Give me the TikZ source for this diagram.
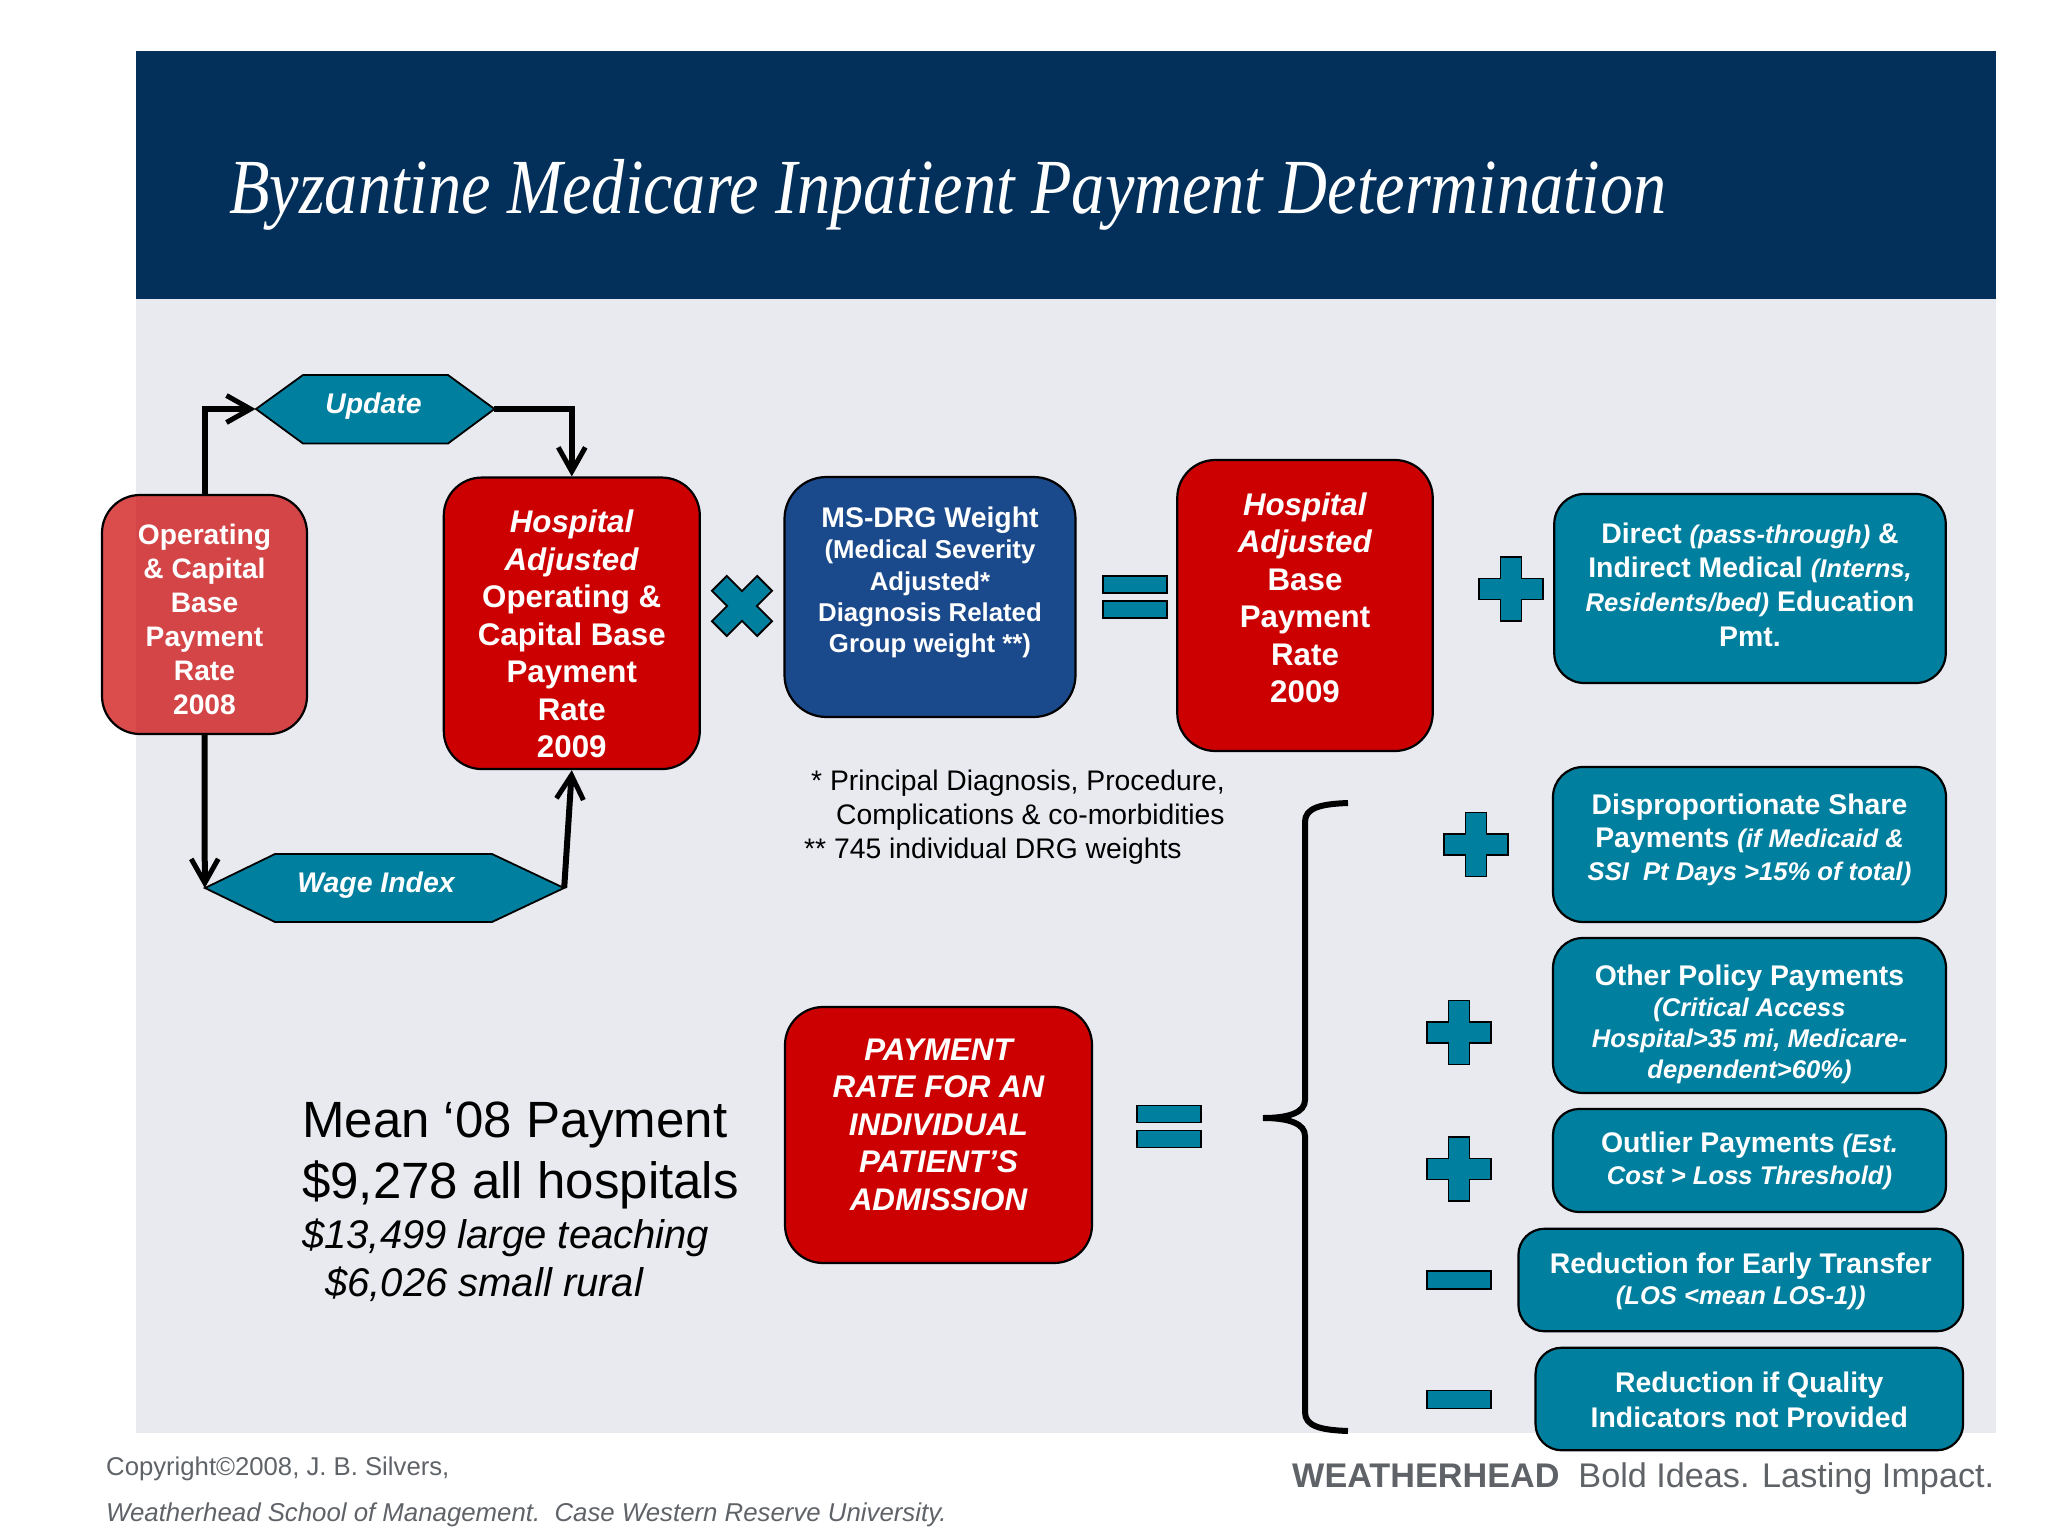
\documentclass[tikz,border=0pt]{standalone}
\usepackage{fontspec}
\setmainfont{Liberation Sans}
\newfontfamily\titlefont[FakeStretch=0.85]{Liberation Serif}
\usetikzlibrary{arrows.meta}

\definecolor{navy}{HTML}{03305A}
\definecolor{panel}{HTML}{E9EAF0}
\definecolor{medred}{HTML}{CC0000}
\definecolor{teal}{HTML}{007F9E}
\definecolor{drgblue}{HTML}{1A4A8C}
\definecolor{footgray}{HTML}{5F6368}

% smaller italic runs inside the boxes
\newcommand{\sm}[1]{{\fontsize{25.6}{30}\selectfont\itshape #1}}
% text sits off the middle of its box
\newcommand{\pad}[1]{\rule[-#1pt]{0pt}{0pt}}
\newcommand{\drop}[1]{\rule{0pt}{#1pt}}

\begin{document}
\begin{tikzpicture}[x=1pt,y=-1pt,line join=miter,
  box node/.style={draw=black,line width=2.2pt,text=white,align=center,inner sep=0pt,
    font=\fontsize{28.4}{34.4}\selectfont\bfseries},
  red node/.style={box node,fill=medred,rounded corners=38pt,
    font=\fontsize{31.3}{37.5}\selectfont\bfseries},
  teal node/.style={box node,fill=teal,rounded corners=30pt},
  hex mark/.style={draw=black,line width=1.8pt,fill=teal},
  hex node/.style={inner sep=0pt,text=white,font=\fontsize{28.4}{34}\selectfont\bfseries\itshape},
  flow/.style={draw=black,line width=6pt,-{Straight Barb[length=24pt,width=27pt,line width=5pt]}},
  op mark/.style={draw=black,line width=1.8pt,fill=teal},
  plain text/.style={inner sep=0pt,align=left,text=black},
  foot text/.style={inner sep=0pt,anchor=base west,text=footgray},
  plusop/.pic={\path[op mark] (-10.5,-32) -- (10.5,-32) -- (10.5,-10.5) -- (32,-10.5)
    -- (32,10.5) -- (10.5,10.5) -- (10.5,32) -- (-10.5,32) -- (-10.5,10.5) -- (-32,10.5)
    -- (-32,-10.5) -- (-10.5,-10.5) -- cycle;},
  minusop/.pic={\path[op mark] (-32,-9) rectangle (32,9);},
  equalop/.pic={\path[op mark] (-32,-21) rectangle (32,-4) (-32,4) rectangle (32,21);}]

  \useasboundingbox (0,0) rectangle (2048,1536);
  \fill[panel] (136,299) rectangle (1996,1433);
  \fill[navy] (136,51) rectangle (1996,299);
  \node[anchor=base west,inner sep=0pt,text=white,font=\fontsize{78}{90}\selectfont\titlefont\itshape]
    (title) at (229,213) {Byzantine Medicare Inpatient Payment Determination};

  \node[red node,fill opacity=.7,text opacity=1,draw opacity=1,
    font=\fontsize{28.2}{34}\selectfont\bfseries,minimum width=205pt,minimum height=239pt]
    (oprate) at (204.5,614.5) {\drop{30}Operating\\\&~Capital\\Base\\Payment\\Rate\\2008};
  \node[red node,minimum width=256pt,minimum height=291.5pt] (hospadj) at (571.8,623.3)
    {\drop{44}\textit{Hospital}\\\textit{Adjusted}\\Operating \&\\Capital Base\\Payment\\Rate\\2009};
  \node[box node,fill=drgblue,rounded corners=42pt,minimum width=291pt,minimum height=240pt,
    font=\fontsize{25.8}{31.3}\selectfont\bfseries] (drg) at (930,597)
    {{\fontsize{28.4}{31.3}\selectfont MS-DRG Weight}\\(Medical Severity\\Adjusted*\\Diagnosis Related\\Group weight **)\pad{34}};
  \node[red node,minimum width=255.5pt,minimum height=291pt] (hosprate) at (1305,605.5)
    {\textit{Hospital}\\\textit{Adjusted}\\Base\\Payment\\Rate\\2009\pad{16}};
  \node[teal node,minimum width=391.5pt,minimum height=189pt] (direct) at (1750,588.5)
    {Direct \sm{(pass-through)} \&\\Indirect Medical \sm{(Interns,}\\\sm{Residents/bed)} Education\\Pmt.\pad{8}};

  \node[teal node,minimum width=393pt,minimum height=155pt,
    font=\fontsize{28.4}{33}\selectfont\bfseries] (disp) at (1749.5,844.5)
    {Disproportionate Share\\Payments \sm{(if Medicaid \&}\\\sm{SSI~~Pt Days >15\% of total)}\pad{14}};
  \node[teal node,minimum width=393pt,minimum height=155pt,
    font=\fontsize{28.4}{31}\selectfont\bfseries] (other) at (1749.5,1015.5)
    {\drop{39}Other Policy Payments\\\sm{(Critical Access}\\\sm{Hospital>35 mi, Medicare-}\\\sm{dependent>60\%)}};
  \node[teal node,rounded corners=26pt,minimum width=393pt,minimum height=103pt,
    font=\fontsize{28.4}{32}\selectfont\bfseries] (outlier) at (1749.5,1160.5)
    {Outlier Payments \sm{(Est.}\\\sm{Cost > Loss Threshold)}};
  \node[teal node,rounded corners=26pt,minimum width=444.5pt,minimum height=102.5pt,
    font=\fontsize{28.4}{31.5}\selectfont\bfseries] (early) at (1740.7,1280)
    {\drop{23}Reduction for Early Transfer\\\sm{(LOS <mean LOS-1))}};
  \node[teal node,rounded corners=26pt,minimum width=427.5pt,minimum height=102.5pt,
    font=\fontsize{28.4}{35}\selectfont\bfseries] (quality) at (1749.3,1399)
    {\drop{22}Reduction if Quality\\Indicators not Provided};
  \node[red node,minimum width=307pt,minimum height=256pt,
    font=\fontsize{31.3}{37.5}\selectfont\bfseries\itshape] (payment) at (938.5,1135)
    {PAYMENT\\RATE FOR AN\\INDIVIDUAL\\PATIENT’S\\ADMISSION\pad{21}};

  \path[hex mark] (256,409) -- (303,375) -- (448,375) -- (494.5,409) -- (448,443.5) -- (303,443.5) -- cycle;
  \node[hex node,minimum width=238.5pt,minimum height=68.5pt] (update) at (375,409)
    {\raisebox{-4pt}[0pt][0pt]{Update}\hspace*{3pt}};
  \path[hex mark] (205,888) -- (275,854) -- (492,854) -- (564,888) -- (492,922) -- (275,922) -- cycle;
  \node[hex node,minimum width=359pt,minimum height=68pt] (wage) at (384.5,888)
    {\raisebox{-4pt}[0pt][0pt]{Wage Index}\hspace*{17pt}};

  \draw[flow] (oprate.north) |- (update.west);
  \draw[flow] (update.east) -| (hospadj.north);
  \draw[flow] (oprate.south) -- (wage.west);
  \draw[flow] (wage.east) -- (hospadj.south);

  % operators between the boxes
  \pic[rotate=45] (times) at (742,606) {plusop};
  \pic (equalone) at (1135,597) {equalop};
  \pic (plusdirect) at (1511,589) {plusop};
  \pic (plusdisp) at (1476,844.5) {plusop};
  \pic (plusother) at (1459,1032.5) {plusop};
  \pic (plusoutlier) at (1459,1169) {plusop};
  \pic (minusearly) at (1459,1280) {minusop};
  \pic (minusquality) at (1459,1399.5) {minusop};
  \pic (equaltwo) at (1169,1126.5) {equalop};

  \draw[black,line width=6pt] (1348,803) .. controls (1320,804) and (1305,808) .. (1305,822)
    -- (1305,1100) .. controls (1305,1112) and (1290,1118) .. (1263,1118)
    .. controls (1290,1118) and (1305,1124) .. (1305,1136)
    -- (1305,1412) .. controls (1305,1426) and (1320,1430) .. (1348,1431);

  \node[plain text,anchor=north west,font=\fontsize{28.3}{34}\selectfont] (notes) at (804,770)
    {\hspace*{7pt}* Principal Diagnosis, Procedure,\\\hspace*{32pt}Complications \& co-morbidities\\** 745 individual DRG weights};
  \node[plain text,anchor=north west,font=\fontsize{51}{61}\selectfont] (mean) at (302,1102)
    {Mean ‘08 Payment\\\$9,278 all hospitals\\[-11pt]{\fontsize{40}{48}\selectfont\itshape \$13,499 large teaching}\\[-13pt]{\fontsize{40}{48}\selectfont\itshape\hspace*{23pt}\$6,026 small rural}};

  \node[foot text,font=\fontsize{25.7}{30}\selectfont] (copyright) at (106,1475) {Copyright©2008, J. B. Silvers,};
  \node[foot text,font=\fontsize{25.8}{30}\selectfont\itshape] (school) at (106,1521)
    {Weatherhead School of Management.~~Case Western Reserve University.};
  \node[foot text,font=\fontsize{34.2}{40}\selectfont] (brand) at (1292,1487)
    {\textbf{WEATHERHEAD}~~Bold Ideas. Lasting Impact.};
\end{tikzpicture}
\end{document}
